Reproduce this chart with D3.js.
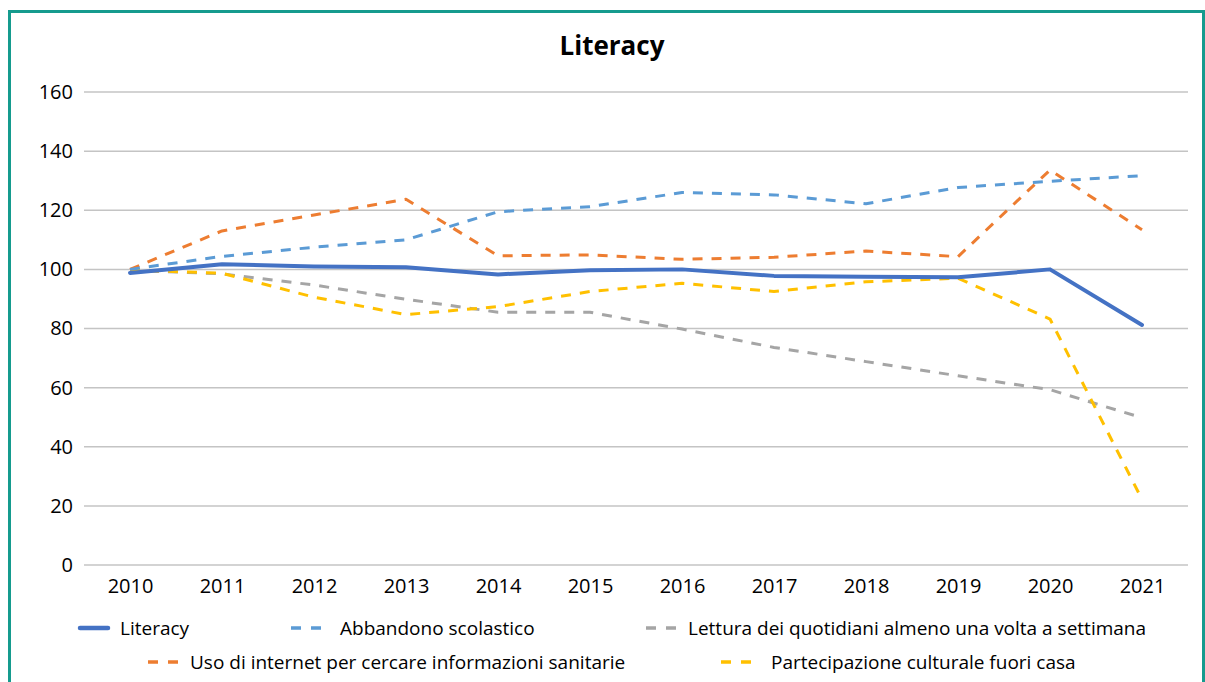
<!DOCTYPE html>
<html>
<head>
<meta charset="utf-8">
<script src="https://cdn.jsdelivr.net/npm/d3@7"></script>
<style>
  html, body { margin: 0; padding: 0; background: #fff; }
  svg { display: block; }
  text { font-family: "Open Sans", "Noto Sans", sans-serif; fill: #000; }
</style>
</head>
<body>
<svg id="chart" width="1205" height="682"></svg>
<script>
// Years on the horizontal axis
const years = ["2010","2011","2012","2013","2014","2015","2016","2017","2018","2019","2020","2021"];
// Y axis ticks
const yTicks = [0, 20, 40, 60, 80, 100, 120, 140, 160];

// Index values (2010 = 100)
const literacy     = [98.8, 101.7, 101.0, 100.7, 98.3, 99.7, 100.0, 97.8, 97.5, 97.3, 100.0, 81.2];
const abbandono    = [100.0, 104.4, 107.5, 110.0, 119.5, 121.2, 126.0, 125.2, 122.2, 127.7, 129.8, 131.7];
const lettura      = [99.7, 98.5, 94.7, 89.9, 85.5, 85.5, 79.8, 73.6, 68.8, 64.0, 59.3, 49.8];
const usoInternet  = [100.0, 113.0, 118.4, 123.7, 104.6, 104.9, 103.4, 104.1, 106.2, 104.3, 133.6, 113.4];
const partecipazione = [99.8, 98.7, 90.6, 84.7, 87.4, 92.5, 95.3, 92.5, 95.8, 97.0, 83.2, 22.2];

const seriesNames = [
  "Literacy",
  "Abbandono scolastico",
  "Lettura dei quotidiani almeno una volta a settimana",
  "Uso di internet per cercare informazioni sanitarie",
  "Partecipazione culturale fuori casa"
];

const series = [
  { name: seriesNames[0], values: literacy,       color: "#4472C4", width: 4,   dash: null },
  { name: seriesNames[1], values: abbandono,      color: "#5B9BD5", width: 3,   dash: "10 9" },
  { name: seriesNames[2], values: lettura,        color: "#A5A5A5", width: 3,   dash: "10 9" },
  { name: seriesNames[3], values: usoInternet,    color: "#ED7D31", width: 3,   dash: "10 9" },
  { name: seriesNames[4], values: partecipazione, color: "#FFC000", width: 3,   dash: "10 9" }
];

const svg = d3.select("#chart");

// Frame: teal border on top, left and right
svg.append("path")
  .attr("d", "M9.5,682 L9.5,11.5 L1203.5,11.5 L1203.5,682")
  .attr("fill", "none")
  .attr("stroke", "#159B8E")
  .attr("stroke-width", 3);

// Title
svg.append("text")
  .attr("x", 612).attr("y", 55)
  .attr("text-anchor", "middle")
  .style("font-size", "26px")
  .style("font-weight", "bold")
  .text("Literacy");

const x = d3.scalePoint().domain(years).range([84, 1188]).padding(0.5);
const y = d3.scaleLinear().domain([0, 160]).range([565, 92]);

// Horizontal gridlines
svg.append("g")
  .selectAll("line")
  .data(yTicks)
  .join("line")
  .attr("x1", 84).attr("x2", 1188)
  .attr("y1", d => y(d)).attr("y2", d => y(d))
  .attr("stroke", "#C4C4C4")
  .attr("stroke-width", 1.5);

// Y axis labels
const yAxis = d3.axisLeft(y).tickValues(yTicks).tickSize(0).tickPadding(0);
svg.append("g")
  .attr("transform", "translate(73,0)")
  .call(yAxis)
  .call(g => g.select(".domain").remove())
  .call(g => g.selectAll("text")
    .style("font-size", "20px")
    .style("font-family", "\"Open Sans\", sans-serif")
    .attr("fill", "#000"));

// X axis labels
const xAxis = d3.axisBottom(x).tickSize(0).tickPadding(0);
svg.append("g")
  .attr("transform", "translate(0,579)")
  .call(xAxis)
  .call(g => g.select(".domain").remove())
  .call(g => g.selectAll("text")
    .style("font-size", "20px")
    .style("font-family", "\"Open Sans\", sans-serif")
    .attr("fill", "#000"));

// Lines
const line = d3.line()
  .x((d, i) => x(years[i]))
  .y(d => y(d));

// Dashed series underneath, the solid index line on top
const drawOrder = [2, 4, 3, 1, 0];
svg.append("g")
  .selectAll("path")
  .data(drawOrder.map(i => series[i]))
  .join("path")
  .attr("d", d => line(d.values))
  .attr("fill", "none")
  .attr("stroke", d => d.color)
  .attr("stroke-width", d => d.width)
  .attr("stroke-dasharray", d => d.dash)
  .attr("stroke-linecap", d => d.dash ? "butt" : "round")
  .attr("stroke-linejoin", "round");

// Legend: swatch position and text offset per entry
const legendPos = [
  { sx: 80,  ty: 628, tx: 40 },
  { sx: 291, ty: 628, tx: 49 },
  { sx: 646, ty: 628, tx: 42 },
  { sx: 148, ty: 662, tx: 42 },
  { sx: 721, ty: 662, tx: 50 }
];
const legend = svg.append("g")
  .selectAll("g")
  .data(series)
  .join("g")
  .attr("transform", (d, i) => `translate(${legendPos[i].sx},${legendPos[i].ty})`);

legend.append("line")
  .attr("x1", 0).attr("x2", d => d.dash ? 30 : 28)
  .attr("y1", 0).attr("y2", 0)
  .attr("stroke", d => d.color)
  .attr("stroke-width", d => d.dash ? 3.5 : 4.5)
  .attr("stroke-dasharray", d => d.dash ? "10 10" : null)
  .attr("stroke-linecap", d => d.dash ? "butt" : "round");

legend.append("text")
  .attr("x", (d, i) => legendPos[i].tx)
  .attr("y", 7)
  .style("font-size", "19px")
  .text(d => d.name);
</script>
</body>
</html>
